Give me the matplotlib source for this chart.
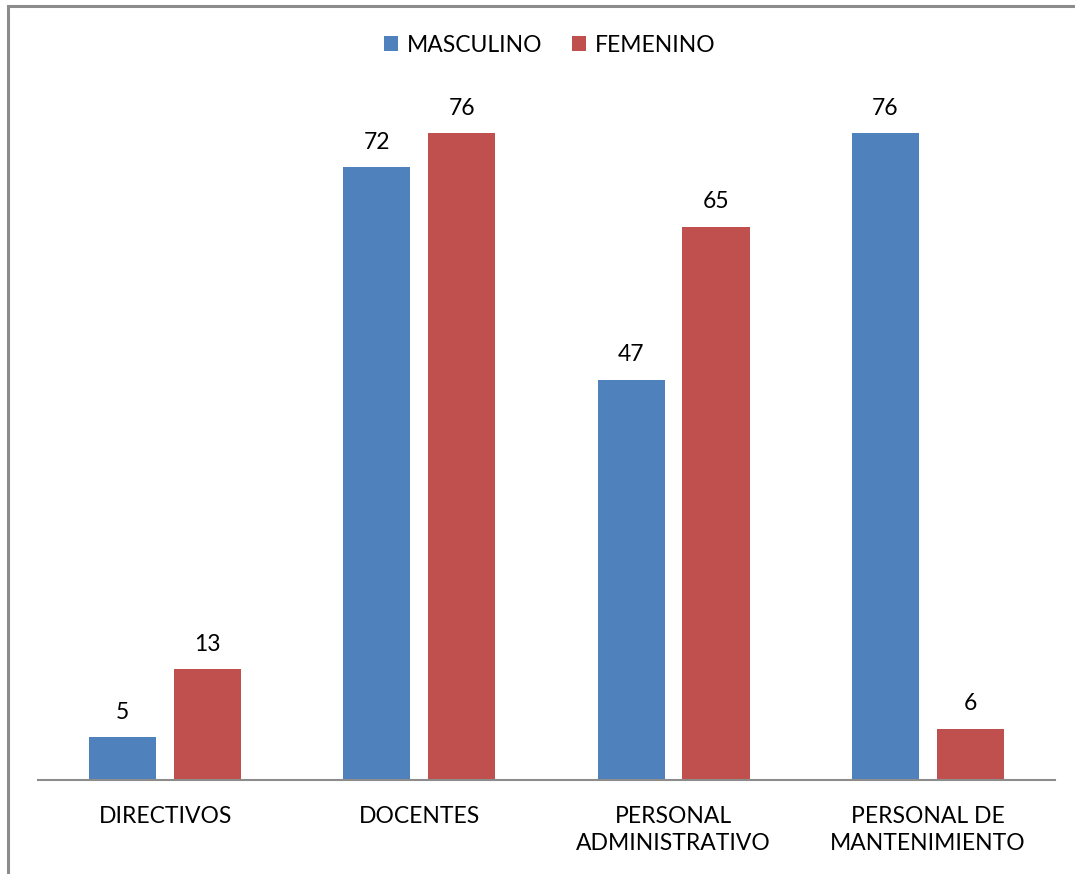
import numpy as np
import matplotlib.pyplot as plt
from matplotlib.patches import Rectangle

# Personal por género y categoría
categorias = ['DIRECTIVOS', 'DOCENTES', 'PERSONAL\nADMINISTRATIVO', 'PERSONAL DE\nMANTENIMIENTO']
masculino = [5, 72, 47, 76]
femenino = [13, 76, 65, 6]

azul = '#4F81BD'
rojo = '#C0504D'

plt.rcParams['font.family'] = ['Lato', 'DejaVu Sans']

fig = plt.figure(figsize=(10.75, 8.74), dpi=100)
ax = fig.add_axes([0.0353, 0.1076, 0.946, 0.779])

# marco del gráfico
fig.patches.append(Rectangle((8 / 1075, -0.1), 1.2, 0.1 + 1 - 6 / 874, transform=fig.transFigure,
                             fill=False, edgecolor='#8c8c8c', linewidth=2.2))

x = np.arange(len(categorias))
ancho = 0.264
off = 0.167
b1 = ax.bar(x - off, masculino, ancho, color=azul, label='MASCULINO')
b2 = ax.bar(x + off, femenino, ancho, color=rojo, label='FEMENINO')

for bars, vals in ((b1, masculino), (b2, femenino)):
    for b, v in zip(bars, vals):
        ax.text(b.get_x() + b.get_width() / 2, v + 1.7, str(v), ha='center', va='bottom',
                fontsize=16.5, color='black')

ax.set_xlim(-0.5, 3.5)
ax.set_ylim(0, 80)
ax.set_xticks(x)
ax.set_xticklabels(categorias, fontsize=16.5, linespacing=1.35)
ax.tick_params(axis='x', length=0, pad=19)
ax.set_yticks([])
for s in ('top', 'right', 'left'):
    ax.spines[s].set_visible(False)
ax.spines['bottom'].set_color('#8c8c8c')
ax.spines['bottom'].set_linewidth(1.5)

fig.legend(loc='center', bbox_to_anchor=(550 / 1075, 1 - 45 / 874), ncol=2, frameon=False,
           fontsize=16.5, handlelength=0.6, handleheight=0.6, handletextpad=0.4,
           columnspacing=1.3)

fig.savefig('out.png', dpi=100)
